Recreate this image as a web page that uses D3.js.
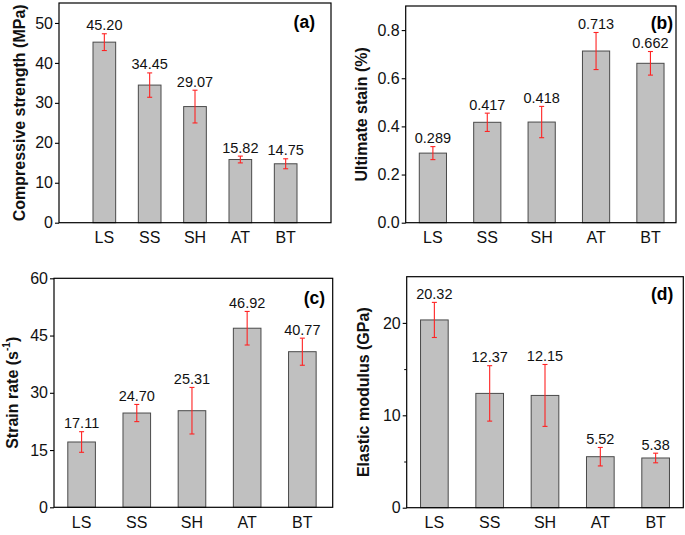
<!DOCTYPE html>
<html><head><meta charset="utf-8">
<script src="https://cdn.jsdelivr.net/npm/d3@7"></script>
<style>
body{margin:0;background:#fff;}
svg{display:block;font-family:"Liberation Sans",Arial,sans-serif;}
</style></head>
<body><svg id="chart" width="685" height="535"></svg>
<script>
const categories = ["LS","SS","SH","AT","BT"];
const strength = [45.20, 34.45, 29.07, 15.82, 14.75];
const strengthErr = [2.1, 3.05, 4.1, 0.85, 1.25];
const strain = [0.289, 0.417, 0.418, 0.713, 0.662];
const strainErr = [0.027, 0.038, 0.065, 0.077, 0.049];
const rate = [17.11, 24.70, 25.31, 46.92, 40.77];
const rateErr = [2.7, 2.25, 6.1, 4.4, 3.55];
const modulus = [20.32, 12.37, 12.15, 5.52, 5.38];
const modulusErr = [1.9, 3.0, 3.35, 1.0, 0.52];
const ticksA = [0,10,20,30,40,50];
const ticksB = [0,0.2,0.4,0.6,0.8];
const ticksC = [0,15,30,45,60];
const ticksD = [0,10,20];
const minorD = [5,15];

const svg = d3.select("#chart");

function panel(cfg){
  const g = svg.append("g");
  const x = d3.scaleLinear().domain(cfg.xDomain).range([cfg.left, cfg.right]);
  const y = d3.scaleLinear().domain(cfg.yDomain).range([cfg.bottom, cfg.top]);
  const bw = x(0.5) - x(0);
  const data = categories.map((c,i)=>({c, i:i+1, v:cfg.values[i], e:cfg.errs[i]}));

  // bars
  g.selectAll("rect.bar").data(data).join("rect")
    .attr("x", d=>x(d.i)-bw/2).attr("width", bw)
    .attr("y", d=>y(d.v)).attr("height", d=>y(0)-y(d.v))
    .attr("fill","#c0c0c0").attr("stroke","#4a4a4a").attr("stroke-width",1);

  // error bars
  const eb = g.selectAll("g.err").data(data).join("g").attr("stroke","#f22").attr("stroke-width",1.1);
  eb.append("line").attr("x1",d=>x(d.i)).attr("x2",d=>x(d.i)).attr("y1",d=>y(d.v+d.e)).attr("y2",d=>y(d.v-d.e));
  eb.append("line").attr("x1",d=>x(d.i)-2.5).attr("x2",d=>x(d.i)+2.5).attr("y1",d=>y(d.v+d.e)).attr("y2",d=>y(d.v+d.e));
  eb.append("line").attr("x1",d=>x(d.i)-2.5).attr("x2",d=>x(d.i)+2.5).attr("y1",d=>y(d.v-d.e)).attr("y2",d=>y(d.v-d.e));

  // value labels
  g.selectAll("text.val").data(data).join("text")
    .attr("x", d=>x(d.i)).attr("y", d=>y(d.v+d.e)-3.5)
    .attr("text-anchor","middle").attr("font-size",14.5).attr("fill","#111")
    .text(d=>d.v.toFixed(cfg.dec));

  // frame
  g.append("rect").attr("x",cfg.left).attr("y",cfg.top)
    .attr("width",cfg.right-cfg.left).attr("height",cfg.bottom-cfg.top)
    .attr("fill","none").attr("stroke","#000").attr("stroke-width",1.2);

  // y axis
  const ya = d3.axisLeft(y).tickValues(cfg.ticks).tickSize(4).tickPadding(2).tickFormat(cfg.tf);
  const yg = g.append("g").attr("transform",`translate(${cfg.left},0)`).call(ya);
  yg.select(".domain").remove();
  yg.selectAll("text").attr("font-size",16).attr("fill","#111").attr("font-family","Liberation Sans, Arial, sans-serif");
  yg.selectAll("line").attr("stroke","#000").attr("stroke-width",1.1);
  if(cfg.minor){
    const ym = d3.axisLeft(y).tickValues(cfg.minor).tickSize(2.5).tickFormat("");
    const mg = g.append("g").attr("transform",`translate(${cfg.left},0)`).call(ym);
    mg.select(".domain").remove();
    mg.selectAll("line").attr("stroke","#000");
  }

  // x labels
  g.selectAll("text.cat").data(data).join("text")
    .attr("x", d=>x(d.i)).attr("y", cfg.bottom+20.5)
    .attr("text-anchor","middle").attr("font-size",16).attr("fill","#111")
    .text(d=>d.c);

  // y title
  const t = g.append("text")
    .attr("transform",`translate(${cfg.titleX},${(cfg.top+cfg.bottom)/2}) rotate(-90)`)
    .attr("text-anchor","middle").attr("dominant-baseline","central")
    .attr("font-size",16).attr("font-weight","bold").attr("fill","#111");
  if(cfg.sup){
    t.append("tspan").text(cfg.title);
    t.append("tspan").attr("font-size",10).attr("dy",-6).text(cfg.sup);
    t.append("tspan").attr("dy",6).text(")");
  } else t.text(cfg.title);

  // panel letter
  g.append("text").attr("x",cfg.right-cfg.letterDx).attr("y",cfg.top+cfg.letterDy)
    .attr("text-anchor","end").attr("font-size",17.5).attr("font-weight","bold").attr("fill","#000")
    .text(cfg.letter);
}

panel({left:59,right:331,top:3,bottom:222.7,xDomain:[0,6],yDomain:[0,55],
  values:strength,errs:strengthErr,ticks:ticksA,tf:d3.format("d"),dec:2,
  title:"Compressive strength (MPa)",titleX:19,letter:"(a)",letterDx:16,letterDy:24.5});
panel({left:405.7,right:676,top:6,bottom:222.7,xDomain:[0.5,5.47],yDomain:[0,0.9],
  values:strain,errs:strainErr,ticks:ticksB,tf:d3.format(".1f"),dec:3,
  title:"Ultimate stain (%)",titleX:361,letter:"(b)",letterDx:3,letterDy:23});
panel({left:54,right:332.7,top:278.3,bottom:507.3,xDomain:[0.5,5.55],yDomain:[0,60],
  values:rate,errs:rateErr,ticks:ticksC,tf:d3.format("d"),dec:2,
  title:"Strain rate (s",sup:"-1",titleX:12,letter:"(c)",letterDx:7.5,letterDy:25.5});
panel({left:406.7,right:683.3,top:276.7,bottom:507.7,xDomain:[0.5,5.5],yDomain:[0,25],
  values:modulus,errs:modulusErr,ticks:ticksD,minor:minorD,tf:d3.format("d"),dec:2,
  title:"Elastic modulus (GPa)",titleX:363,letter:"(d)",letterDx:10,letterDy:23});
</script></body></html>
